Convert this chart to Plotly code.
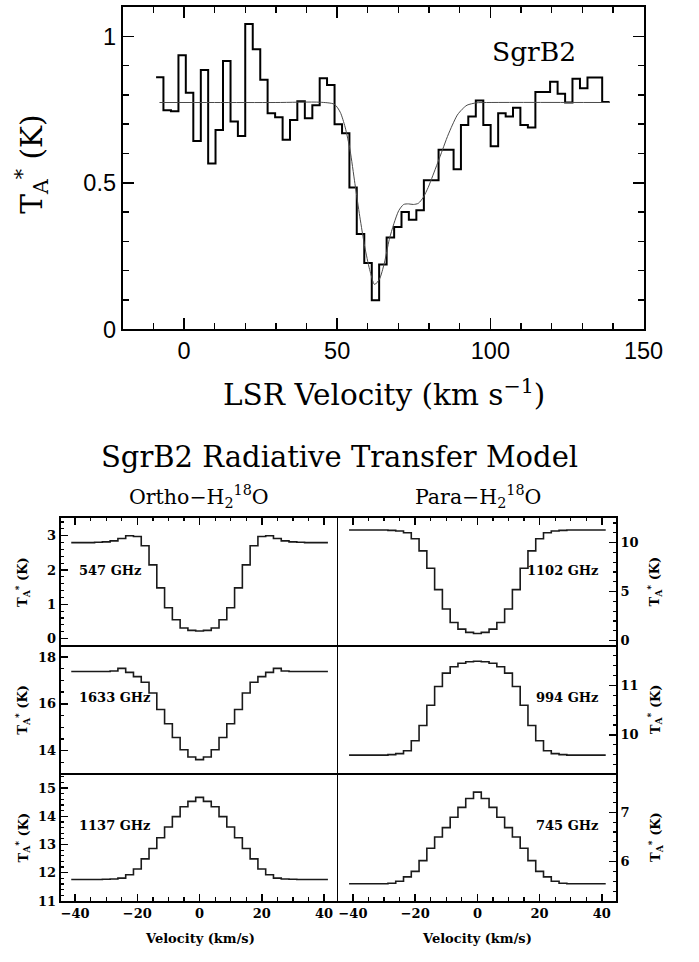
import plotly.graph_objects as go

W, H = 699, 962

# ---------------- Top panel: observed SgrB2 spectrum ----------------
VEL_OBS = [-7.9, -5.5, -3.0, -0.6, 1.8, 4.3, 6.7, 9.1, 11.5, 14.0,
           16.4, 18.8, 21.2, 23.7, 26.1, 28.5, 31.0, 33.4, 35.8, 38.2,
           40.7, 43.1, 45.5, 47.9, 50.4, 52.8, 55.2, 57.6, 60.1, 62.5,
           64.9, 67.4, 69.8, 72.2, 74.6, 77.1, 79.5, 81.9, 84.3, 86.8,
           89.2, 91.6, 94.0, 96.5, 98.9, 101.3, 103.8, 106.2, 108.6, 111.0,
           113.5, 115.9, 118.3, 120.7, 123.2, 125.6, 128.0, 130.5, 132.9, 135.3,
           137.7]
TA_OBS = [0.860, 0.748, 0.744, 0.935, 0.807, 0.643, 0.885, 0.566, 0.680, 0.916,
          0.709, 0.660, 1.042, 0.956, 0.852, 0.737, 0.724, 0.647, 0.714, 0.778,
          0.720, 0.765, 0.857, 0.834, 0.700, 0.669, 0.484, 0.325, 0.226, 0.099,
          0.221, 0.313, 0.349, 0.400, 0.374, 0.406, 0.509, 0.509, 0.613, 0.613,
          0.546, 0.697, 0.726, 0.781, 0.697, 0.625, 0.737, 0.726, 0.756, 0.697,
          0.689, 0.810, 0.810, 0.845, 0.804, 0.774, 0.855, 0.823, 0.859, 0.859,
          0.776]

VEL_FIT = [-8.0, 10.0, 30.0, 44.4, 49.1, 51.0, 52.6, 54.2, 55.8, 57.4,
           59.0, 60.6, 62.2, 63.8, 65.4, 67.0, 68.5, 70.1, 71.7, 73.3,
           74.9, 76.5, 78.1, 79.7, 81.2, 82.8, 84.4, 86.0, 87.6, 89.2,
           90.8, 92.4, 95.5, 98.7, 139.0]
TA_FIT = [0.774, 0.774, 0.774, 0.775, 0.768, 0.741, 0.690, 0.612, 0.497, 0.384,
          0.282, 0.204, 0.153, 0.171, 0.226, 0.306, 0.360, 0.405, 0.426, 0.428,
          0.426, 0.430, 0.450, 0.484, 0.524, 0.568, 0.613, 0.658, 0.697, 0.731,
          0.751, 0.765, 0.773, 0.774, 0.774]

# ---------------- Bottom: radiative transfer model ----------------
VEL_MODEL = [-40.0, -37.5, -35.0, -32.5, -30.0, -27.5, -25.0, -22.5, -20.0, -17.5,
             -15.0, -12.5, -10.0, -7.5, -5.0, -2.5, 0.0, 2.5, 5.0, 7.5,
             10.0, 12.5, 15.0, 17.5, 20.0, 22.5, 25.0, 27.5, 30.0, 32.5,
             35.0, 37.5, 40.0]
T_547 = [2.80, 2.80, 2.80, 2.81, 2.82, 2.85, 2.92, 3.00, 2.98, 2.71,
         2.15, 1.48, 0.90, 0.55, 0.31, 0.24, 0.22, 0.24, 0.31, 0.55,
         0.90, 1.48, 2.15, 2.71, 2.98, 3.00, 2.92, 2.85, 2.82, 2.81,
         2.80, 2.80, 2.80]
T_1633 = [17.38, 17.38, 17.38, 17.38, 17.38, 17.40, 17.51, 17.34, 17.16, 16.92,
          16.46, 15.76, 15.15, 14.56, 14.04, 13.73, 13.62, 13.73, 14.04, 14.56,
          15.15, 15.76, 16.46, 16.92, 17.16, 17.34, 17.51, 17.40, 17.38, 17.38,
          17.38, 17.38, 17.38]
T_1137 = [11.76, 11.76, 11.76, 11.76, 11.77, 11.78, 11.81, 11.93, 12.13, 12.49,
          12.86, 13.24, 13.62, 13.99, 14.34, 14.53, 14.67, 14.53, 14.34, 13.99,
          13.62, 13.24, 12.86, 12.49, 12.13, 11.93, 11.81, 11.78, 11.77, 11.76,
          11.76, 11.76, 11.76]
T_1102 = [11.28, 11.28, 11.28, 11.28, 11.28, 11.25, 11.18, 11.00, 10.40, 9.16,
          7.38, 5.20, 3.22, 1.84, 1.17, 0.84, 0.72, 0.84, 1.17, 1.84,
          3.22, 5.20, 7.38, 9.16, 10.40, 11.00, 11.18, 11.25, 11.28, 11.28,
          11.28, 11.28, 11.28]
T_994 = [9.59, 9.59, 9.59, 9.59, 9.59, 9.60, 9.62, 9.68, 9.88, 10.19,
         10.60, 10.98, 11.25, 11.38, 11.45, 11.48, 11.49, 11.48, 11.45, 11.38,
         11.25, 10.98, 10.60, 10.19, 9.88, 9.68, 9.62, 9.60, 9.59, 9.59,
         9.59, 9.59, 9.59]
T_745 = [5.55, 5.55, 5.55, 5.55, 5.55, 5.56, 5.60, 5.69, 5.80, 6.02,
         6.27, 6.50, 6.69, 6.90, 7.10, 7.28, 7.41, 7.28, 7.10, 6.90,
         6.69, 6.50, 6.27, 6.02, 5.80, 5.69, 5.60, 5.56, 5.55, 5.55,
         5.55, 5.55, 5.55]

PANELS = [
    # (values, label, column, row, y-range, major, minor)
    (T_547, "547 GHz", 0, 0, [-0.2, 3.52], 1, 0.2),
    (T_1633, "1633 GHz", 0, 1, [13.03, 18.49], 2, 0.5),
    (T_1137, "1137 GHz", 0, 2, [11.0, 15.52], 1, 0.2),
    (T_1102, "1102 GHz", 1, 0, [-0.5, 12.52], 5, 1),
    (T_994, "994 GHz", 1, 1, [9.22, 11.81], 1, 0.2),
    (T_745, "745 GHz", 1, 2, [5.2, 7.79], 1, 0.2),
]


def X(px):
    return px / W


def Y(py):
    return 1 - py / H


def step_xy(centers, values):
    edges = [centers[0] - (centers[1] - centers[0]) / 2]
    for a, b in zip(centers[:-1], centers[1:]):
        edges.append((a + b) / 2)
    edges.append(centers[-1] + (centers[-1] - centers[-2]) / 2)
    return edges, list(values) + [values[-1]]


SERIF = "DejaVu Serif"
SANS = "Liberation Sans"

fig = go.Figure()
layout = dict(width=W, height=H, margin=dict(l=0, r=0, t=0, b=0),
              paper_bgcolor="white", plot_bgcolor="white", showlegend=False,
              autosize=False, hovermode=False)

# ---- top panel ----
hx, hy = step_xy(VEL_OBS, TA_OBS)
fig.add_trace(go.Scatter(x=hx, y=hy, mode="lines", line=dict(shape="hv", color="black", width=2),
                         xaxis="x", yaxis="y", hoverinfo="skip"))
fig.add_trace(go.Scatter(x=VEL_FIT, y=TA_FIT, mode="lines",
                         line=dict(shape="spline", smoothing=0.7, color="#4a4a4a", width=1.0),
                         xaxis="x", yaxis="y", hoverinfo="skip"))

layout["xaxis"] = dict(domain=[X(126.3), X(662.5)], range=[-20, 150], anchor="y",
                       showgrid=False, zeroline=False, showline=True, linecolor="black",
                       linewidth=2, mirror="allticks", ticks="inside", ticklen=11,
                       tickwidth=1.6, tickcolor="black", tick0=0, dtick=50,
                       minor=dict(dtick=10, ticklen=6, tickwidth=1.4, tickcolor="black", ticks="inside"),
                       tickfont=dict(family=SANS, size=23.5, color="black"))
layout["yaxis"] = dict(domain=[Y(333.8), Y(7.1)], range=[0, 1.1], anchor="x",
                       showgrid=False, zeroline=False, showline=True, linecolor="black",
                       linewidth=2, mirror="allticks", ticks="inside", ticklen=11,
                       tickwidth=1.6, tickcolor="black", tick0=0, dtick=0.5,
                       minor=dict(dtick=0.1, ticklen=6, tickwidth=1.4, tickcolor="black", ticks="inside"),
                       tickfont=dict(family=SANS, size=23.5, color="black"))

# ---- bottom panels ----
LW = 1.8
col_x = [(62.3, 348.3), (348.3, 634.3)]
row_y = [(525.0, 654.3), (654.3, 784.0), (784.0, 913.3)]
small_font = dict(family=SERIF, size=13, color="black", weight="bold")

annotations = []
for i, (vals, label, col, row, yr, major, minor) in enumerate(PANELS):
    n = i + 2
    xa, ya = "x%d" % n, "y%d" % n
    sx, sy = step_xy(VEL_MODEL, vals)
    fig.add_trace(go.Scatter(x=sx, y=sy, mode="lines", line=dict(shape="hv", color="#1a1a1a", width=1.6),
                             xaxis=xa, yaxis=ya, hoverinfo="skip"))
    x0, x1 = col_x[col]
    y0, y1 = row_y[row]
    xdict = dict(domain=[X(x0), X(x1)], range=[-44.7, 44.6], anchor=ya, showgrid=False,
                 zeroline=False, showline=True, linecolor="black", linewidth=LW,
                 tick0=0, dtick=20, tickcolor="black", tickwidth=1.4, ticklen=7,
                 tickfont=small_font)
    if row == 0:
        xdict.update(side="top", mirror=True, ticks="inside", showticklabels=False,
                     minor=dict(dtick=5, ticklen=3.5, tickwidth=1.2, tickcolor="black", ticks="inside"))
    elif row == 1:
        xdict.update(side="bottom", mirror=False, ticks="", showticklabels=False)
    else:
        xdict.update(side="bottom", mirror=False, ticks="inside", showticklabels=True,
                     minor=dict(dtick=5, ticklen=3.5, tickwidth=1.2, tickcolor="black", ticks="inside"))
    ydict = dict(domain=[Y(y1), Y(y0)], range=yr, anchor=xa, showgrid=False, zeroline=False,
                 showline=True, linecolor="black", linewidth=LW,
                 mirror=(col == 1),
                 side="left" if col == 0 else "right", ticks="inside", ticklen=7,
                 tickwidth=1.4, tickcolor="black", tick0=0, dtick=major,
                 minor=dict(dtick=minor, ticklen=3.5, tickwidth=1.2, tickcolor="black", ticks="inside"),
                 tickfont=small_font)
    layout["xaxis%d" % n] = xdict
    layout["yaxis%d" % n] = ydict

    yc = (y0 + y1) / 2
    if col == 0:
        annotations.append(dict(x=X(79), y=Y(y0 + 53), text=label, xanchor="left", yanchor="middle",
                                font=small_font))
        annotations.append(dict(x=X(23), y=Y(yc), text="T<sub>A</sub><sup>*</sup> (K)", textangle=-90,
                                xanchor="center", yanchor="middle", font=small_font))
    else:
        annotations.append(dict(x=X(618), y=Y(y0 + 53), text=label, xanchor="right", yanchor="middle",
                                font=small_font))
        annotations.append(dict(x=X(674), y=Y(yc), text="T<sub>A</sub><sup>*</sup> (K)", textangle=-90,
                                xanchor="center", yanchor="middle", font=small_font))

for cx in (205.5, 491.3):
    annotations.append(dict(x=X(cx), y=Y(951), text="Velocity (km/s)", xanchor="center",
                            yanchor="middle", font=small_font))

annotations += [
    dict(x=X(550), y=Y(52), text="SgrB2", xanchor="center", yanchor="middle",
         font=dict(family=SERIF, size=26.5, color="black")),
    dict(x=X(33), y=Y(167), text="T<sub>A</sub><sup>*</sup> (K)", textangle=-90,
         xanchor="center", yanchor="middle", font=dict(family=SERIF, size=29.5, color="black")),
    dict(x=X(395), y=Y(398), text="LSR Velocity (km s<sup>−1</sup>)", xanchor="center",
         yanchor="middle", font=dict(family=SERIF, size=29.5, color="black")),
    dict(x=X(350), y=Y(463), text="SgrB2 Radiative Transfer Model", xanchor="center",
         yanchor="middle", font=dict(family=SERIF, size=29, color="black")),
    dict(x=X(205), y=Y(503), text="Ortho−H<sub>2</sub><sup>18</sup>O", xanchor="center",
         yanchor="middle", font=dict(family=SERIF, size=20.5, color="black")),
    dict(x=X(492), y=Y(503), text="Para−H<sub>2</sub><sup>18</sup>O", xanchor="center",
         yanchor="middle", font=dict(family=SERIF, size=20.5, color="black")),
]
for a in annotations:
    a.update(xref="paper", yref="paper", showarrow=False)
layout["annotations"] = annotations

fig.update_layout(**layout)
# remove the browser's default 8 px body margin so the figure fills the window exactly
fig.write_html("out.html", config={"displayModeBar": False, "staticPlot": True},
               post_script="document.body.style.margin='0px';document.body.style.overflow='hidden';")
